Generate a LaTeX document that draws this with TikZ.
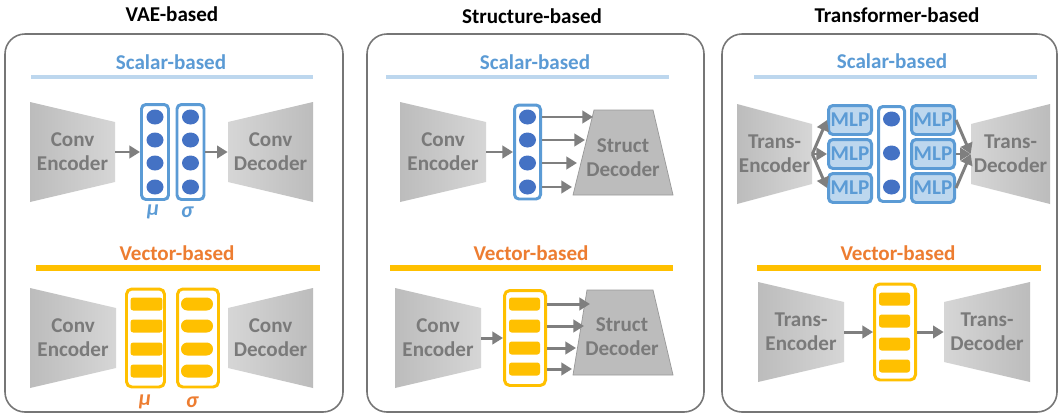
\documentclass[tikz,border=0pt]{standalone}
\usepackage{fontspec}
\setmainfont{Carlito}
\usetikzlibrary{positioning,shapes.geometric,arrows.meta}
\definecolor{sblue}{HTML}{5B9BD5}
\definecolor{lblue}{HTML}{BDD7EE}
\definecolor{dblue}{HTML}{4472C4}
\definecolor{orng}{HTML}{ED7D31}
\definecolor{gold}{HTML}{FFC000}
\definecolor{txtgray}{HTML}{7A7A7A}
\definecolor{arrgray}{HTML}{7F7F7F}
\definecolor{panelgray}{HTML}{767676}
\definecolor{trapdark}{HTML}{BCBCBC}
\definecolor{traplight}{HTML}{D6D6D6}
\begin{document}
\begin{tikzpicture}[x=0.02cm,y=-0.02cm,
  ttl/.style={font=\fontsize{12}{14}\selectfont\bfseries},
  sub/.style={font=\fontsize{12}{14}\selectfont\bfseries},
  lbl/.style={text=txtgray,font=\fontsize{12}{13.5}\selectfont\bfseries,align=center,inner sep=0pt},
  panel/.style={draw=panelgray,line width=0.9pt,rounded corners=0.4cm},
  sbox/.style={draw=sblue,line width=1.7pt,rounded corners=2.5pt,inner sep=0pt},
  obox/.style={draw=gold,line width=1.7pt,rounded corners=3pt,inner sep=0pt},
  sdot/.style={ellipse,fill=dblue,minimum width=0.34cm,minimum height=0.3cm,inner sep=0pt},
  cell/.style={rectangle,fill=gold,minimum width=0.64cm,minimum height=0.26cm,inner sep=0pt,rounded corners=1.5pt},
  pill/.style={cell,rounded corners=3.6pt},
  mlp/.style={sbox,fill=lblue,minimum width=0.86cm,minimum height=0.58cm,text=sblue,font=\fontsize{12}{13}\selectfont\bfseries},
  arr/.style={draw=arrgray,line width=1.7pt,-{Triangle[length=6pt,width=7pt]}},
  gk/.style={font=\fontsize{12.5}{14}\selectfont\bfseries\itshape}]
\useasboundingbox (0,0) rectangle (1060,416);
\fill[white] (0,0) rectangle (1060,416);
% column titles and frames
\node[ttl] (t1) at (172,14) {VAE-based};
\node[ttl] (t2) at (532,16) {Structure-based};
\node[ttl] (t3) at (897,15) {Transformer-based};
\draw[panel] (5,34) rectangle (343,412);
\draw[panel] (367,34) rectangle (704,412);
\draw[panel] (722,34) rectangle (1057,412);
% headings with their rules
\foreach \i/\x/\y in {1/171/62,2/535/62,3/892/61} {\node[sub,text=sblue] (s\i) at (\x,\y) {Scalar-based};}
\foreach \i/\x/\y in {1/177/253,2/531/253,3/898/253} {\node[sub,text=orng] (v\i) at (\x,\y) {Vector-based};}
\foreach \a/\b in {31/313,386/669,754/1037} {\draw[lblue,line width=2.3pt] (\a,77) -- (\b,77);}
\foreach \a/\b in {36/320,390/673,757/1041} {\draw[gold,line width=3pt] (\a,268) -- (\b,268);}
% encoders (wide side left) and decoders (wide side right)
\foreach \n/\xa/\xb/\yc/\txt in {e1/30/115/152/{Conv\\Encoder},e2/30/116/338/{Conv\\Encoder},e3/400/486/152/{Conv\\Encoder},e4/395/481/338/{Conv\\Encoder},e5/737/812/154/{Trans-\\Encoder},e6/758/844/332/{Trans-\\Encoder}} {
  \shade[left color=trapdark,right color=traplight] (\xa,\yc-50) -- (\xb,\yc-30) -- (\xb,\yc+30) -- (\xa,\yc+50) -- cycle;
  \node[lbl,minimum width={(\xb-\xa)*0.02cm}] (\n) at ({(\xa+\xb)/2},\yc) {\txt};}
\foreach \n/\xa/\xb/\yc/\txt in {d1/228/313/152/{Conv\\Decoder},d2/228/313/338/{Conv\\Decoder},d5/971/1050/154/{Trans-\\Decoder},d6/944/1030/332/{Trans-\\Decoder}} {
  \shade[left color=traplight,right color=trapdark] (\xa,\yc-30) -- (\xb,\yc-50) -- (\xb,\yc+50) -- (\xa,\yc+30) -- cycle;
  \node[lbl,minimum width={(\xb-\xa)*0.02cm}] (\n) at ({(\xa+\xb)/2},\yc) {\txt};}
\filldraw[fill=trapdark,draw=gray!80,line width=0.4pt] (594,110) -- (653,110) -- (673,195) -- (573,195) -- cycle;
\node[lbl] (sd1) at (623,158) {Struct\\Decoder};
\filldraw[fill=trapdark,draw=gray!80,line width=0.4pt] (587,290) -- (653,290) -- (673,375) -- (573,375) -- cycle;
\node[lbl] (sd2) at (622,337) {Struct\\Decoder};
% VAE, scalar
\node[sbox,minimum width=0.54cm,minimum height=1.9cm] (mu1) at (155,152) {};
\node[sbox,minimum width=0.54cm,minimum height=1.9cm] (sg1) at (190.5,152) {};
\foreach \i/\y in {1/117,2/140,3/163,4/187} {\node[sdot] (m\i) at (155,\y) {}; \node[sdot] (g\i) at (190.5,\y) {};}
\node[gk,text=sblue] (mul1) at (153,212) {μ};
\node[gk,text=sblue] (sgl1) at (187,212) {σ};
\draw[arr] (e1) -- (mu1);
\draw[arr] (sg1) -- (d1);
% VAE, vector
\node[obox,minimum width=0.76cm,minimum height=1.96cm] (mu2) at (145.5,338) {};
\node[obox,minimum width=0.82cm,minimum height=1.96cm] (sg2) at (198,338) {};
\foreach \i/\y in {1/304,2/326,3/349,4/371} {\node[cell] (mc\i) at (146.5,\y) {}; \node[pill] (gc\i) at (197,\y) {};}
\node[gk,text=orng] (mul2) at (145,402) {μ};
\node[gk,text=orng] (sgl2) at (192,402) {σ};
% structure, scalar
\node[sbox,minimum width=0.52cm,minimum height=1.88cm] (z1) at (527.5,152) {};
\foreach \i/\y/\xe in {1/117/593,2/140/585,3/163/577,4/187/572} {\node[sdot] (zd\i) at (527.5,\y) {}; \coordinate (ze\i) at (\xe,\y); \draw[arr] (zd\i -| z1.east) -- (ze\i);}
\draw[arr] (e3) -- (z1);
% structure, vector
\node[obox,minimum width=0.82cm,minimum height=1.9cm] (z2) at (525,338) {};
\foreach \i/\y/\xe in {1/304/590,2/326/584,3/348/576,4/369/572} {\node[cell,minimum width=0.62cm] (zc\i) at (524.5,\y) {}; \coordinate (zf\i) at (\xe,\y); \draw[arr] (zc\i -| z2.east) -- (zf\i);}
\draw[arr] (e4) -- (z2);
% transformer, scalar
\node[sbox,minimum width=0.52cm,minimum height=1.9cm] (z3) at (891.5,154) {};
\foreach \i/\y in {1/120,2/154,3/188} {
  \node[mlp] (ml\i) at (850,\y) {MLP};
  \node[mlp] (mr\i) at (933,\y) {MLP};
  \node[sdot] (zt\i) at (891.5,\y-1) {};
  \draw[arr] (e5.east) -- (ml\i.west);
  \draw[arr] (mr\i.east) -- (d5.west);}
% transformer, vector
\node[obox,minimum width=0.82cm,minimum height=1.92cm] (z4) at (895,332) {};
\foreach \i/\y in {1/299,2/321,3/344,4/366} {\node[cell,minimum width=0.62cm] (zv\i) at (894.5,\y) {};}
\draw[arr] (e6) -- (z4);
\draw[arr] (z4) -- (d6);
\end{tikzpicture}
\end{document}
